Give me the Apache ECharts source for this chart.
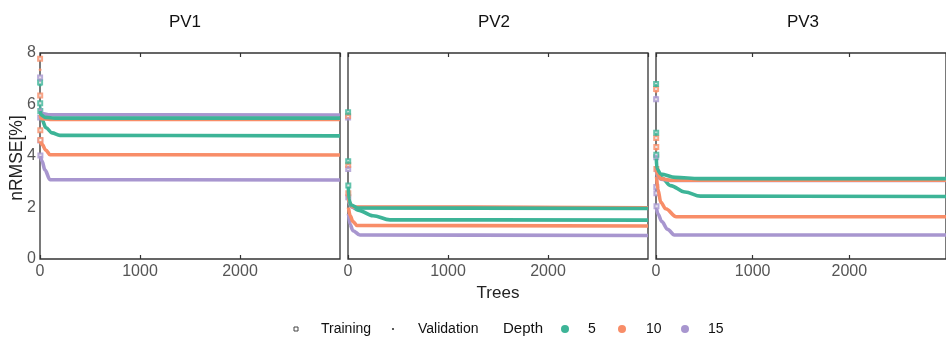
<!DOCTYPE html>
<html><head><meta charset="utf-8">
<script src="https://cdn.jsdelivr.net/npm/echarts@6/dist/echarts.min.js"></script>
<style>html,body{margin:0;padding:0;background:#fff}#c{width:946px;height:338px}</style>
</head><body><div id="c"></div>
<script>
const panels = ['PV1', 'PV2', 'PV3'];
const depths = ['5', '10', '15'];
const xTicks = [0, 1000, 2000, 3000];
const yTicks = [0, 2, 4, 6, 8];
const colors = { '5': '#3db497', '10': '#f88d68', '15': '#a896cf' };

// early trees (markers) and later curves, [trees, nRMSE]
const pv1TrainEarly = { '5': [[1,6.85],[2,6.05],[3,5.75]], '10': [[1,7.78],[2,6.35],[3,5.0],[4,4.62]], '15': [[1,7.05],[2,5.5],[3,4.6],[4,4.02]] };
const pv1TrainLine = { '5': [[5,5.6],[20,5.4],[60,5.1],[120,4.9],[200,4.8],[3000,4.78]], '10': [[5,4.55],[20,4.45],[60,4.22],[100,4.05],[3000,4.04]], '15': [[5,4.0],[20,3.8],[50,3.45],[100,3.08],[3000,3.07]] };
const pv1ValEarly = { '5': [[1,6.75],[2,5.9]], '10': [[1,7.35],[2,5.75]], '15': [[1,6.95],[2,5.85]] };
const pv1ValLine = { '5': [[3,5.75],[10,5.6],[50,5.5],[150,5.47],[3000,5.47]], '10': [[3,5.6],[10,5.45],[100,5.42],[3000,5.42]], '15': [[3,5.8],[20,5.65],[100,5.6],[3000,5.59]] };

const pv2TrainEarly = { '5': [[1,5.7],[2,3.8],[3,2.85]], '10': [[1,5.55],[2,3.65],[3,2.55]], '15': [[1,5.5],[2,3.5],[3,2.4]] };
const pv2TrainLine = { '5': [[5,2.3],[30,2.05],[100,1.9],[250,1.68],[420,1.52],[3000,1.51]], '10': [[5,2.0],[20,1.7],[50,1.45],[90,1.3],[3000,1.28]], '15': [[5,1.75],[20,1.35],[50,1.1],[120,0.93],[3000,0.91]] };
const pv2ValEarly = { '5': [[1,5.65],[2,3.75]], '10': [[1,5.6],[2,3.7]], '15': [[1,5.45],[2,3.55]] };
const pv2ValLine = { '5': [[3,2.8],[10,2.3],[30,2.1],[100,1.98],[3000,1.96]], '10': [[3,2.5],[10,2.2],[50,2.02],[3000,1.99]], '15': [[3,2.45],[10,2.15],[50,2.0],[3000,1.98]] };

const pv3TrainEarly = { '5': [[1,6.8],[2,4.9],[3,4.05]], '10': [[1,6.6],[2,4.7],[3,4.35],[4,3.5]], '15': [[1,6.2],[2,3.95],[3,2.8],[4,2.55],[5,2.05]] };
const pv3TrainLine = { '5': [[5,3.6],[20,3.35],[60,3.15],[150,2.85],[300,2.6],[460,2.44],[3000,2.43]], '10': [[6,3.2],[20,2.7],[50,2.2],[100,1.95],[210,1.64],[3000,1.64]], '15': [[6,1.95],[20,1.75],[60,1.45],[120,1.15],[190,0.93],[3000,0.93]] };
const pv3ValEarly = { '5': [[1,6.75],[2,4.85]], '10': [[1,6.5],[2,4.25]], '15': [[1,6.3],[2,4.0]] };
const pv3ValLine = { '5': [[3,3.9],[10,3.5],[50,3.3],[200,3.17],[450,3.12],[3000,3.12]], '10': [[3,3.6],[10,3.3],[50,3.12],[150,3.06],[3000,3.06]], '15': [[3,3.5],[10,3.25],[50,3.1],[150,3.05],[3000,3.05]] };

const trainEarly = [pv1TrainEarly, pv2TrainEarly, pv3TrainEarly];
const trainLine = [pv1TrainLine, pv2TrainLine, pv3TrainLine];
const valEarly = [pv1ValEarly, pv2ValEarly, pv3ValEarly];
const valLine = [pv1ValLine, pv2ValLine, pv3ValLine];

const chart = echarts.init(document.getElementById('c'), null, { renderer: 'canvas' });
const gridLefts = [40, 348, 656];
const grids = [], xAxes = [], yAxes = [], series = [];
const FF = 'Liberation Sans, Arial, sans-serif';
const lab = { color: '#555', fontSize: 16, fontFamily: FF, formatter: v => String(v) };
panels.forEach((p, i) => {
  grids.push({ left: gridLefts[i], top: 53, width: 300, height: 206, show: true, borderColor: '#333', borderWidth: 1.3, backgroundColor: 'transparent' });
  xAxes.push({ gridIndex: i, type: 'value', min: xTicks[0], max: xTicks[xTicks.length - 1], interval: 1000, position: 'bottom',
    axisLine: { show: false }, axisTick: { inside: true, length: 4, lineStyle: { color: '#333', width: 1.2 } },
    axisLabel: Object.assign({ showMaxLabel: false, margin: 5 }, lab), splitLine: { show: false },
    name: i === 1 ? 'Trees' : '', nameLocation: 'middle', nameGap: 26,
    nameTextStyle: { color: '#222', fontSize: 17, fontFamily: FF } });
  xAxes.push({ gridIndex: i, type: 'value', min: xTicks[0], max: xTicks[xTicks.length - 1], interval: 1000, position: 'top',
    axisLine: { show: false }, axisTick: { inside: true, length: 4, lineStyle: { color: '#333', width: 1.2 } },
    axisLabel: { show: false }, splitLine: { show: false } });
  yAxes.push({ gridIndex: i, type: 'value', min: yTicks[0], max: yTicks[yTicks.length - 1], interval: 2,
    axisLine: { show: false }, axisTick: { show: false }, splitLine: { show: false },
    axisLabel: Object.assign({ show: i === 0, margin: 4 }, lab) });
  ['15', '10', '5'].forEach(d => {
    series.push({ type: 'line', xAxisIndex: 2 * i, yAxisIndex: i, data: trainLine[i][d], showSymbol: false, smooth: 0.35, smoothMonotone: 'x',
      lineStyle: { color: colors[d], width: 3.6 }, silent: true, animation: false });
    series.push({ type: 'scatter', xAxisIndex: 2 * i, yAxisIndex: i, data: trainEarly[i][d], symbol: 'emptyRect', symbolSize: 4,
      itemStyle: { color: colors[d], borderColor: colors[d], borderWidth: 1 }, silent: true, animation: false });
  });
  ['15', '10', '5'].forEach(d => {
    series.push({ type: 'line', xAxisIndex: 2 * i, yAxisIndex: i, data: valLine[i][d], showSymbol: false, smooth: 0.35, smoothMonotone: 'x',
      lineStyle: { color: colors[d], width: 3.6 }, silent: true, animation: false });
    series.push({ type: 'scatter', xAxisIndex: 2 * i, yAxisIndex: i, data: valEarly[i][d], symbol: 'circle', symbolSize: 3,
      itemStyle: { color: colors[d] }, silent: true, animation: false });
  });
});

const graphics = [];
graphics.push({ type: 'text', x: 17, y: 158, rotation: Math.PI / 2, style: { text: 'nRMSE[%]', fill: '#222', font: '17.5px ' + FF, textAlign: 'center', textVerticalAlign: 'middle' } });
const titleX = [185, 494, 803];
panels.forEach((p, i) => graphics.push({ type: 'text', x: titleX[i], y: 22, style: { text: p, fill: '#111', font: '17px ' + FF, textAlign: 'center', textVerticalAlign: 'middle' } }));
const ly = 329;
graphics.push({ type: 'rect', shape: { x: 294, y: ly - 2, width: 4, height: 4 }, style: { fill: '#fff', stroke: '#444', lineWidth: 1 } });
graphics.push({ type: 'text', x: 321, y: ly, style: { text: 'Training', fill: '#111', font: '14px ' + FF, textVerticalAlign: 'middle' } });
graphics.push({ type: 'circle', shape: { cx: 393, cy: ly, r: 1.1 }, style: { fill: '#333' } });
graphics.push({ type: 'text', x: 418, y: ly, style: { text: 'Validation', fill: '#111', font: '14px ' + FF, textVerticalAlign: 'middle' } });
graphics.push({ type: 'text', x: 503, y: ly, style: { text: 'Depth', fill: '#111', font: '15px ' + FF, textVerticalAlign: 'middle' } });
const legX = [565, 622, 685];
const legTX = [588, 646, 708];
depths.forEach((d, k) => {
  graphics.push({ type: 'circle', shape: { cx: legX[k], cy: ly, r: 4 }, style: { fill: colors[d] } });
  graphics.push({ type: 'text', x: legTX[k], y: ly, style: { text: d, fill: '#111', font: '14px ' + FF, textVerticalAlign: 'middle' } });
});

chart.setOption({ animation: false, grid: grids, xAxis: xAxes, yAxis: yAxes, series: series, graphic: graphics });
</script></body></html>
